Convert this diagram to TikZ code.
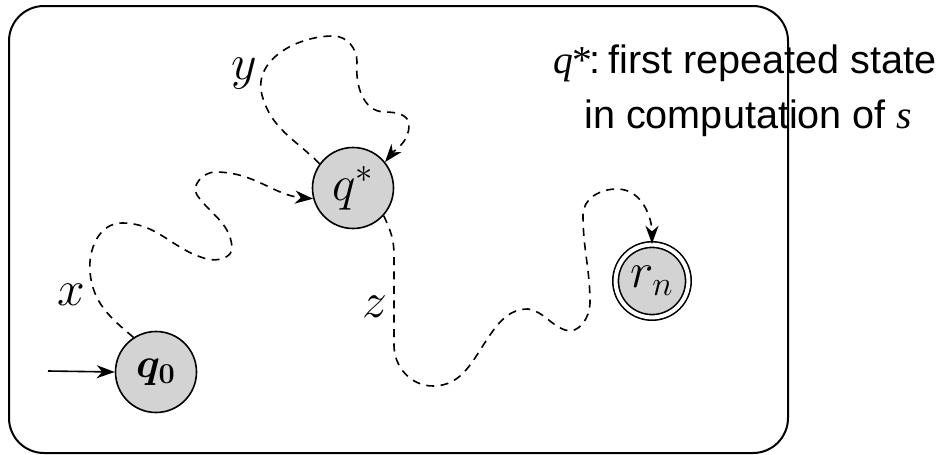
\documentclass[tikz,border=0pt]{standalone}
\usepackage{bm}
\usepackage{fontspec}
\newfontfamily\notesans{Liberation Sans}
\newfontfamily\noteserif{Liberation Serif}
\usetikzlibrary{arrows.meta}
\definecolor{stategray}{RGB}{211,211,211}
\begin{document}
\begin{tikzpicture}[x=0.5pt,y=0.5pt,
  stnode/.style={circle,draw,line width=0.8pt,fill=stategray,minimum size=40.5pt,
    inner sep=0pt,font=\fontsize{21}{21}\selectfont},
  accnode/.style={stnode,double,double distance=2pt,minimum size=36.4pt},
  trail/.style={line width=0.8pt,dash pattern=on 4pt off 3.2pt},
  tip/.style={-{Stealth[length=9pt,width=6.5pt,inset=2.8pt]}},
  lbl/.style={font=\fontsize{23}{23}\selectfont,inner sep=0pt},
  notetext/.style={font=\notesans\fontsize{19.8}{19.8}\selectfont,inner sep=0pt}]
\useasboundingbox (0,0) rectangle (944,-455);

% caption beside the automaton
\node[notetext,anchor=base west] (note1) at (553,-73)
  {{\noteserif\itshape q}\kern-0.5pt{\noteserif *}\kern-1.5pt:\hspace{0.22em}first repeated state};
\node[notetext,anchor=base west] (note2) at (584,-128) {in computation of {\noteserif\itshape s}};

% automaton frame
\draw[line width=1pt,rounded corners=17.5pt] (9,-6) rectangle (788,-453);

% states
\node[stnode] (q0) at (156,-372) {$\bm{q_0}$};
\node[stnode,font=\fontsize{26}{26}\selectfont] (qs) at (353,-188) {$q^*$};
\node[accnode,font=\fontsize{24}{24}\selectfont] (r) at (652,-281) {$r_n$};

% start arrow
\coordinate (init) at (48,-371);
\draw[line width=0.8pt,tip] (init) -- (q0.west);

% x: from q0 to q*
\draw[trail,tip] (q0.123) to[out=140,in=-85] (90,-272) to[out=95,in=180] (122,-223)
  to[out=0,in=165] (207,-259) to[out=-15,in=-85] (232,-247)
  to[out=95,in=-55] (197,-195) to[out=125,in=180] (215,-172)
  to[out=0,in=175] (qs.195);
\node[lbl] (xl) at (71,-295) {$x$};

% y: loop from q* back to q*
\draw[trail,tip] (qs.144) to[out=135,in=-75] (262,-95) to[out=105,in=180] (333,-36)
  to[out=0,in=90] (357,-62) to[out=-95,in=180] (385,-112)
  to[out=0,in=90] (409,-125) to[out=-90,in=51] (qs.39);
\node[lbl] (yl) at (244,-74) {$y$};

% z: from q* to r_n
\draw[trail,tip] (qs.-42) to[out=-65,in=90] (394,-255) -- (394,-345)
  to[out=-90,in=180] (433,-386) to[out=0,in=-125] (490,-335)
  to[out=55,in=180] (528,-309) to[out=-10,in=160] (565,-330)
  to[out=-20,in=-90] (590,-303) to[out=90,in=-90] (583,-215)
  to[out=90,in=180] (617,-189) to[out=0,in=90] (r.north);
\node[lbl] (zl) at (375,-307) {$z$};
\end{tikzpicture}
\end{document}
